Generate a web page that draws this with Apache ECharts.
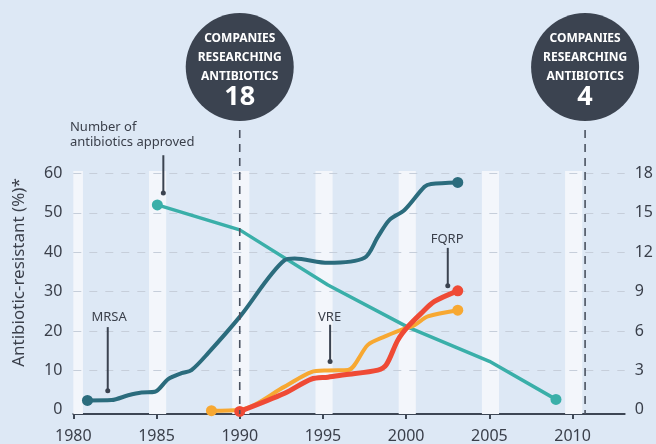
<!DOCTYPE html>
<html>
<head>
<meta charset="utf-8">
<script src="https://cdn.jsdelivr.net/npm/echarts@6/dist/echarts.min.js"></script>
<style>
  html, body { margin: 0; padding: 0; background: #dde8f5; }
  #main { width: 656px; height: 444px; }
</style>
</head>
<body>
<div id="main"></div>
<script>
// tick labels
const xTicks = [1980, 1985, 1990, 1995, 2000, 2005, 2010];
const leftTicks = [0, 10, 20, 30, 40, 50, 60];
const gridTicks = [10, 20, 30, 40, 50, 60];
const rightTicks = [0, 3, 6, 9, 12, 15, 18];
const stripeYears = [1980, 1985, 1990, 1995, 2000, 2005, 2010];

// % resistant (left axis)
const mrsa = [
  [1980.85, 2.4], [1982.3, 2.5], [1983.3, 3.7], [1984.1, 4.4], [1984.9, 4.6],
  [1985.7, 7.8], [1986.5, 9.3], [1987.1, 10.1], [1988.1, 14.4], [1990.0, 23.6],
  [1992.7, 38.0], [1993.3, 38.4], [1995.3, 37.3], [1997.5, 38.6], [1998.3, 43.9],
  [1999.0, 48.2], [1999.9, 50.7], [2001.1, 56.6], [2001.5, 57.3], [2003.1, 57.7]
];
const vre = [
  [1988.3, -0.2], [1990.0, 0.0], [1992.7, 5.9], [1994.3, 9.6], [1995.3, 10.0],
  [1996.5, 10.1], [1997.7, 16.5], [1998.7, 18.6], [1999.7, 20.3], [2000.5, 21.5],
  [2001.3, 23.7], [2003.1, 25.3]
];
const fqrp = [
  [1990.0, -0.4], [1992.7, 4.2], [1994.3, 7.8], [1995.3, 8.3], [1996.3, 8.9],
  [1998.3, 10.1], [1998.8, 11.4], [1999.5, 17.7], [2000.1, 21.1], [2000.9, 24.5],
  [2001.7, 27.5], [2003.1, 30.2]
];
// number of antibiotics approved (right axis)
const approved = [
  [1985.05, 15.6], [1990.0, 13.7], [1995.3, 9.5], [2000.1, 6.3], [2005.0, 3.7], [2009.0, 0.8]
];
// companies researching antibiotics
const companies = [
  { year: 1990, count: '18' },
  { year: 2010.75, count: '4' }
];

const FONT = 'Noto Sans';
const TEXT = '#3a3f4a';
const DARK = '#3b4350';

function lineSeries(name, data, color, width, yAxisIndex, smooth, z) {
  return {
    name: name,
    type: 'line',
    data: data,
    yAxisIndex: yAxisIndex,
    smooth: smooth,
    showAllSymbol: true,
    symbol: 'circle',
    symbolSize: (v, p) => (p.dataIndex === 0 || p.dataIndex === data.length - 1) ? 11 : 0,
    lineStyle: { color: color, width: width, cap: 'round', join: 'round' },
    itemStyle: { color: color },
    z: z,
    silent: true
  };
}

const option = {
  animation: false,
  backgroundColor: '#dde8f5',
  grid: { left: 73.3, right: 27.7, top: 171, bottom: 29.7 },
  xAxis: {
    type: 'value', min: 1980, max: 2013.13, position: 'bottom',
    axisLine: { onZero: false, lineStyle: { color: '#3d4654', width: 2 } },
    axisTick: { customValues: xTicks, length: 5, lineStyle: { color: '#3d4654', width: 2 } },
    axisLabel: { customValues: xTicks, margin: 14, color: TEXT, fontSize: 16, fontFamily: FONT,
      formatter: v => String(v) },
    splitLine: { show: false }
  },
  yAxis: [{
    type: 'value', min: -1.04, max: 60.6, position: 'left',
    name: 'Antibiotic-resistant (%)*', nameLocation: 'middle', nameGap: 46,
    nameTextStyle: { color: TEXT, fontSize: 17, fontFamily: FONT, padding: [0, 0, 0, 40] },
    axisLine: { show: false, onZero: false },
    axisTick: { show: false, customValues: leftTicks },
    axisLabel: { customValues: leftTicks, margin: 11, color: TEXT, fontSize: 16, fontFamily: FONT },
    splitLine: { show: false }
  }, {
    type: 'value', min: -0.312, max: 18.18, position: 'right',
    axisLine: { show: false, onZero: false },
    axisTick: { show: false, customValues: rightTicks },
    axisLabel: { customValues: rightTicks, margin: 10, color: TEXT, fontSize: 16, fontFamily: FONT },
    splitLine: { show: false }
  }],
  series: [
    {
      type: 'line', data: [], silent: true, z: 1,
      markArea: {
        silent: true, z: 1,
        itemStyle: { color: '#f3f6fb' },
        data: stripeYears.map(y => [
          { xAxis: Math.max(1980, y - 0.45), yAxis: 60.59 },
          { xAxis: y + 0.58, yAxis: -1.03 }
        ])
      },
      markLine: {
        silent: true, z: 2, symbol: 'none', label: { show: false },
        lineStyle: { color: '#c6ceda', type: [8, 8], width: 1 },
        data: gridTicks.map(v => ({ yAxis: v }))
      }
    },
    lineSeries('Antibiotics approved', approved, '#3aafa9', 3.5, 1, false, 13),
    lineSeries('MRSA', mrsa, '#2b6c7d', 4, 0, 0.3, 14),
    lineSeries('VRE', vre, '#f7a832', 4, 0, 0.3, 15),
    lineSeries('FQRP', fqrp, '#ef4a35', 5, 0, 0.3, 16)
  ]
};

const chart = echarts.init(document.getElementById('main'));
chart.setOption(option);

// annotations placed through the chart's own scales
const px = (x, y) => chart.convertToPixel({ gridIndex: 0 }, [x, y]);
const g = [];

companies.forEach(c => {
  const top = px(c.year, 71), bot = px(c.year, -1.04), ctr = px(c.year, 86.95);
  g.push({ type: 'line', z: 20, shape: { x1: top[0], y1: top[1], x2: bot[0], y2: bot[1] },
    style: { stroke: '#4a5260', lineWidth: 1.6, lineDash: [8, 6] } });
  g.push({ type: 'circle', z: 20, shape: { cx: ctr[0], cy: ctr[1], r: 54 }, style: { fill: DARK } });
  [['COMPANIES', -29], ['RESEARCHING', -10], ['ANTIBIOTICS', 9]].forEach(t => {
    g.push({ type: 'text', z: 21, x: ctr[0], y: ctr[1] + t[1],
      style: { text: t[0], fill: '#fff', font: 'bold 12px "Noto Sans"', align: 'center', verticalAlign: 'middle' } });
  });
  g.push({ type: 'text', z: 21, x: ctr[0], y: ctr[1] + 30,
    style: { text: c.count, fill: '#fff', font: 'bold 27px "Noto Sans"', align: 'center', verticalAlign: 'middle' } });
});

function pointer(x, y1, y2) {
  const a = px(x, y1), b = px(x, y2);
  g.push({ type: 'line', z: 20, shape: { x1: a[0], y1: a[1], x2: b[0], y2: b[1] },
    style: { stroke: DARK, lineWidth: 2 } });
  g.push({ type: 'circle', z: 20, shape: { cx: b[0], cy: b[1], r: 2.5 }, style: { fill: DARK } });
}
function note(text, x, y, align) {
  const p = px(x, y);
  g.push({ type: 'text', z: 20, x: p[0], y: p[1],
    style: { text: text, fill: TEXT, font: '13px "Noto Sans"', lineHeight: 15, align: align, verticalAlign: 'middle' } });
}

note('Number of\nantibiotics approved', 1979.8, 69.85, 'left');
pointer(1985.41, 64.6, 55.0);
note('MRSA', 1982.15, 23.6, 'center');
pointer(1982.07, 21.0, 4.87);
note('VRE', 1995.4, 23.6, 'center');
pointer(1995.43, 21.6, 12.3);
note('FQRP', 2002.46, 43.4, 'center');
pointer(2002.5, 41.1, 31.5);

chart.setOption({ graphic: g });
</script>
</body>
</html>
